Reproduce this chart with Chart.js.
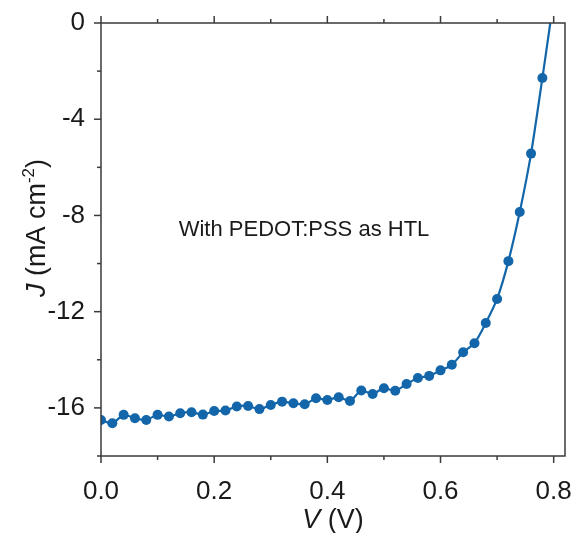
<!DOCTYPE html>
<html>
<head>
<meta charset="utf-8">
<script src="https://cdn.jsdelivr.net/npm/chart.js@4/dist/chart.umd.min.js"></script>
<style>
  html, body { margin: 0; padding: 0; background: #fff; }
  #c { display: block; }
</style>
</head>
<body>
<canvas id="c" width="574" height="533"></canvas>
<script>
// ---- data ----
const voltage = [0.00, 0.02, 0.04, 0.06, 0.08, 0.10, 0.12, 0.14, 0.16, 0.18,
                 0.20, 0.22, 0.24, 0.26, 0.28, 0.30, 0.32, 0.34, 0.36, 0.38,
                 0.40, 0.42, 0.44, 0.46, 0.48, 0.50, 0.52, 0.54, 0.56, 0.58,
                 0.60, 0.62, 0.64, 0.66, 0.68, 0.70, 0.72, 0.74, 0.76, 0.78];
const current = [-16.50, -16.64, -16.29, -16.43, -16.50, -16.29, -16.36, -16.22, -16.18, -16.28,
                 -16.13, -16.11, -15.94, -15.92, -16.05, -15.88, -15.74, -15.81, -15.85, -15.60,
                 -15.67, -15.56, -15.71, -15.28, -15.42, -15.18, -15.29, -15.01, -14.76, -14.67,
                 -14.44, -14.21, -13.69, -13.31, -12.47, -11.47, -9.90, -7.86, -5.43, -2.29];
const vocVoltage = 0.794;   // where the curve reaches J = 0
const vocCurrent = 0;
const xMajorTicks = [0.0, 0.2, 0.4, 0.6, 0.8];
const xMinorTicks = [0.1, 0.3, 0.5, 0.7];
const yMajorTicks = [0, -4, -8, -12, -16];
const yMinorTicks = [-2, -6, -10, -14, -18];
const annotationText = 'With PEDOT:PSS as HTL';

const FONT = "'Liberation Sans', Arial, sans-serif";
const BLUE = '#1366a9';
const AXIS = '#3a3a3a';
const TEXT = '#1a1a1a';

const fitPoints = voltage.map((v, i) => ({x: v, y: current[i]})).concat([{x: vocVoltage, y: vocCurrent}]);
const markerPoints = voltage.map((v, i) => ({x: v, y: current[i]}));

const framePlugin = {
  id: 'frame',
  afterDraw(chart) {
    const {ctx, chartArea: {left, right, top, bottom}, scales: {x, y}} = chart;
    ctx.save();
    ctx.strokeStyle = AXIS;
    ctx.lineWidth = 1.5;
    ctx.strokeRect(left, top, right - left, bottom - top);
    const seg = (x1, y1, x2, y2) => { ctx.beginPath(); ctx.moveTo(x1, y1); ctx.lineTo(x2, y2); ctx.stroke(); };
    xMajorTicks.forEach(v => { const p = x.getPixelForValue(v); seg(p, bottom, p, bottom + 7); seg(p, top, p, top - 7); });
    xMinorTicks.forEach(v => { const p = x.getPixelForValue(v); seg(p, bottom, p, bottom + 4); seg(p, top, p, top - 4); });
    yMajorTicks.forEach(v => { const p = y.getPixelForValue(v); seg(left, p, left - 7, p); });
    yMinorTicks.forEach(v => { const p = y.getPixelForValue(v); seg(left, p, left - 4, p); });

    ctx.fillStyle = TEXT;
    // x-axis title: V (V)
    const cx = (left + right) / 2;
    const xBase = 528;
    ctx.textBaseline = 'alphabetic';
    ctx.font = 'italic 27px ' + FONT;
    const wV = ctx.measureText('V').width;
    ctx.font = '27px ' + FONT;
    const wRest = ctx.measureText(' (V)').width;
    let sx = cx - (wV + wRest) / 2;
    ctx.textAlign = 'left';
    ctx.font = 'italic 27px ' + FONT;
    ctx.fillText('V', sx, xBase);
    ctx.font = '27px ' + FONT;
    ctx.fillText(' (V)', sx + wV, xBase);

    // y-axis title: J (mA cm-2)
    ctx.save();
    ctx.translate(45, 228);
    ctx.rotate(-Math.PI / 2);
    const parts = [
      {t: 'J', f: 'italic 27px ' + FONT, dy: 0},
      {t: ' (mA cm', f: '27px ' + FONT, dy: 0},
      {t: '-2', f: '17px ' + FONT, dy: -11},
      {t: ')', f: '27px ' + FONT, dy: 0}
    ];
    let total = 0;
    parts.forEach(p => { ctx.font = p.f; p.w = ctx.measureText(p.t).width; total += p.w; });
    let px = -total / 2;
    parts.forEach(p => { ctx.font = p.f; ctx.fillText(p.t, px, p.dy); px += p.w; });
    ctx.restore();

    // annotation
    ctx.font = '22px ' + FONT;
    ctx.textAlign = 'center';
    ctx.fillText(annotationText, 304, 236);
    ctx.restore();
  }
};

const noPad = s => { s.paddingTop = 0; s.paddingBottom = 0; s.paddingLeft = 0; s.paddingRight = 0; };

new Chart(document.getElementById('c'), {
  type: 'scatter',
  data: {
    datasets: [
      {
        data: fitPoints,
        showLine: true,
        borderColor: BLUE,
        borderWidth: 2.2,
        pointRadius: 0,
        tension: 0.25,
        fill: false,
        clip: false
      },
      {
        data: markerPoints,
        showLine: false,
        pointRadius: 5,
        pointBackgroundColor: BLUE,
        pointBorderColor: BLUE,
        pointBorderWidth: 0
      }
    ]
  },
  options: {
    responsive: false,
    animation: false,
    devicePixelRatio: 1,
    layout: { padding: { top: 23, right: 9, left: 0, bottom: 0 } },
    plugins: { legend: { display: false }, tooltip: { enabled: false } },
    scales: {
      x: {
        type: 'linear',
        min: 0, max: 0.82,
        grid: { display: false, drawTicks: false },
        border: { display: false },
        afterBuildTicks: s => { s.ticks = xMajorTicks.map(v => ({value: v})); },
        afterFit: s => { s.height = 77; noPad(s); },
        ticks: {
          padding: 20,
          color: TEXT,
          font: { family: FONT, size: 26 },
          maxRotation: 0,
          autoSkip: false,
          callback: v => Number(v).toFixed(1)
        }
      },
      y: {
        type: 'linear',
        min: -18, max: 0,
        grid: { display: false, drawTicks: false },
        border: { display: false },
        afterBuildTicks: s => { s.ticks = yMajorTicks.map(v => ({value: v})); },
        afterFit: s => { s.width = 101; noPad(s); },
        ticks: {
          padding: 16,
          color: TEXT,
          font: { family: FONT, size: 26 },
          autoSkip: false,
          callback: v => String(v)
        }
      }
    }
  },
  plugins: [framePlugin]
});
</script>
</body>
</html>
